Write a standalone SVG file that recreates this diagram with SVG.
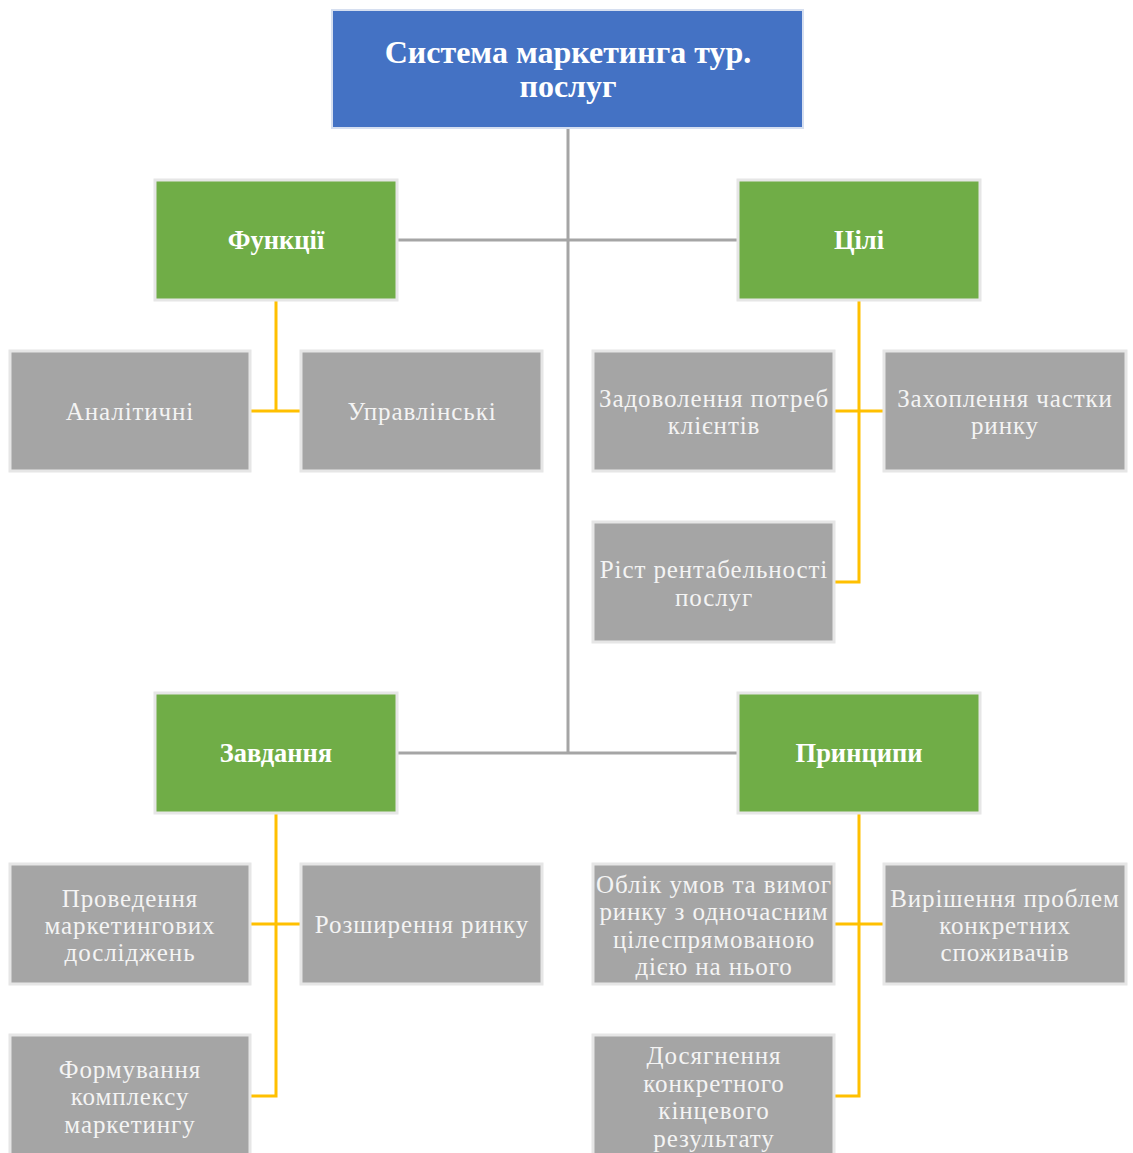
<svg xmlns="http://www.w3.org/2000/svg" width="1133" height="1153" viewBox="0 0 1133 1153">
<style>
.box{stroke:#e6e6e6;stroke-width:3}
.blue{fill:#4472C4;stroke:#d6dff0;stroke-width:2}
.green{fill:#70AD47}
.grey{fill:#A5A5A5}
.t{font-family:"Liberation Serif","Times New Roman",serif;fill:#ffffff;text-anchor:middle}
.title{font-size:32px;font-weight:bold}
.gh{font-size:26.5px;font-weight:bold}
.gt{font-size:25px;letter-spacing:0.9px;fill:#f4f4f4}
.trunk{stroke:#A5A5A5;stroke-width:3;fill:none}
.yl{stroke:#FFC000;stroke-width:3;fill:none}
</style>
<rect width="1133" height="1153" fill="#ffffff"/>
<g id="connectors">
<path class="trunk" d="M568 128V753M397 240H738M397 753H738"/>
<path class="yl" d="M276 300V411M250 411H301"/>
<path class="yl" d="M859 300V582H834M834 411H884"/>
<path class="yl" d="M276 813V1096H250M250 924H301"/>
<path class="yl" d="M859 813V1096H834M834 924H884"/>
</g>
<g id="root"><rect class="blue" x="332" y="10" width="471" height="118"/>
<text class="t title" x="568" y="63">Система маркетинга тур.</text><text class="t title" x="568" y="97">послуг</text></g>
<g id="funktsii"><rect class="box green" x="155" y="180" width="242" height="120"/><text class="t gh" x="276" y="249">Функції</text></g>
<g id="tsili"><rect class="box green" x="738" y="180" width="242" height="120"/><text class="t gh" x="859" y="249">Цілі</text></g>
<g id="zavdannia"><rect class="box green" x="155" y="693" width="242" height="120"/><text class="t gh" x="276" y="762">Завдання</text></g>
<g id="pryntsypy"><rect class="box green" x="738" y="693" width="242" height="120"/><text class="t gh" x="859" y="762">Принципи</text></g>
<g id="analitychni"><rect class="box grey" x="10" y="351" width="240" height="120"/><text class="t gt" x="130" y="420">Аналітичні</text></g>
<g id="upravlinski"><rect class="box grey" x="301" y="351" width="241" height="120"/><text class="t gt" x="422" y="420">Управлінські</text></g>
<g id="zadovolennia"><rect class="box grey" x="593" y="351" width="241" height="120"/><text class="t gt" x="714" y="407">Задоволення потреб</text><text class="t gt" x="714" y="434">клієнтів</text></g>
<g id="zakhoplennia"><rect class="box grey" x="884" y="351" width="242" height="120"/><text class="t gt" x="1005" y="407">Захоплення частки</text><text class="t gt" x="1005" y="434">ринку</text></g>
<g id="rist"><rect class="box grey" x="593" y="522" width="241" height="120"/><text class="t gt" x="714" y="578">Ріст рентабельності</text><text class="t gt" x="714" y="606">послуг</text></g>
<g id="provedennia"><rect class="box grey" x="10" y="864" width="240" height="120"/><text class="t gt" x="130" y="907">Проведення</text><text class="t gt" x="130" y="934">маркетингових</text><text class="t gt" x="130" y="961">досліджень</text></g>
<g id="rozshyrennia"><rect class="box grey" x="301" y="864" width="241" height="120"/><text class="t gt" x="422" y="933">Розширення ринку</text></g>
<g id="formuvannia"><rect class="box grey" x="10" y="1035" width="240" height="120"/><text class="t gt" x="130" y="1078">Формування</text><text class="t gt" x="130" y="1105">комплексу</text><text class="t gt" x="130" y="1133">маркетингу</text></g>
<g id="oblik"><rect class="box grey" x="593" y="864" width="241" height="120"/><text class="t gt" x="714" y="893">Облік умов та вимог</text><text class="t gt" x="714" y="920">ринку з одночасним</text><text class="t gt" x="714" y="948">цілеспрямованою</text><text class="t gt" x="714" y="975">дією на нього</text></g>
<g id="vyrishennia"><rect class="box grey" x="884" y="864" width="242" height="120"/><text class="t gt" x="1005" y="907">Вирішення проблем</text><text class="t gt" x="1005" y="934">конкретних</text><text class="t gt" x="1005" y="961">споживачів</text></g>
<g id="dosiahnennia"><rect class="box grey" x="593" y="1035" width="241" height="120"/><text class="t gt" x="714" y="1064">Досягнення</text><text class="t gt" x="714" y="1092">конкретного</text><text class="t gt" x="714" y="1119">кінцевого</text><text class="t gt" x="714" y="1147">результату</text></g>
</svg>
